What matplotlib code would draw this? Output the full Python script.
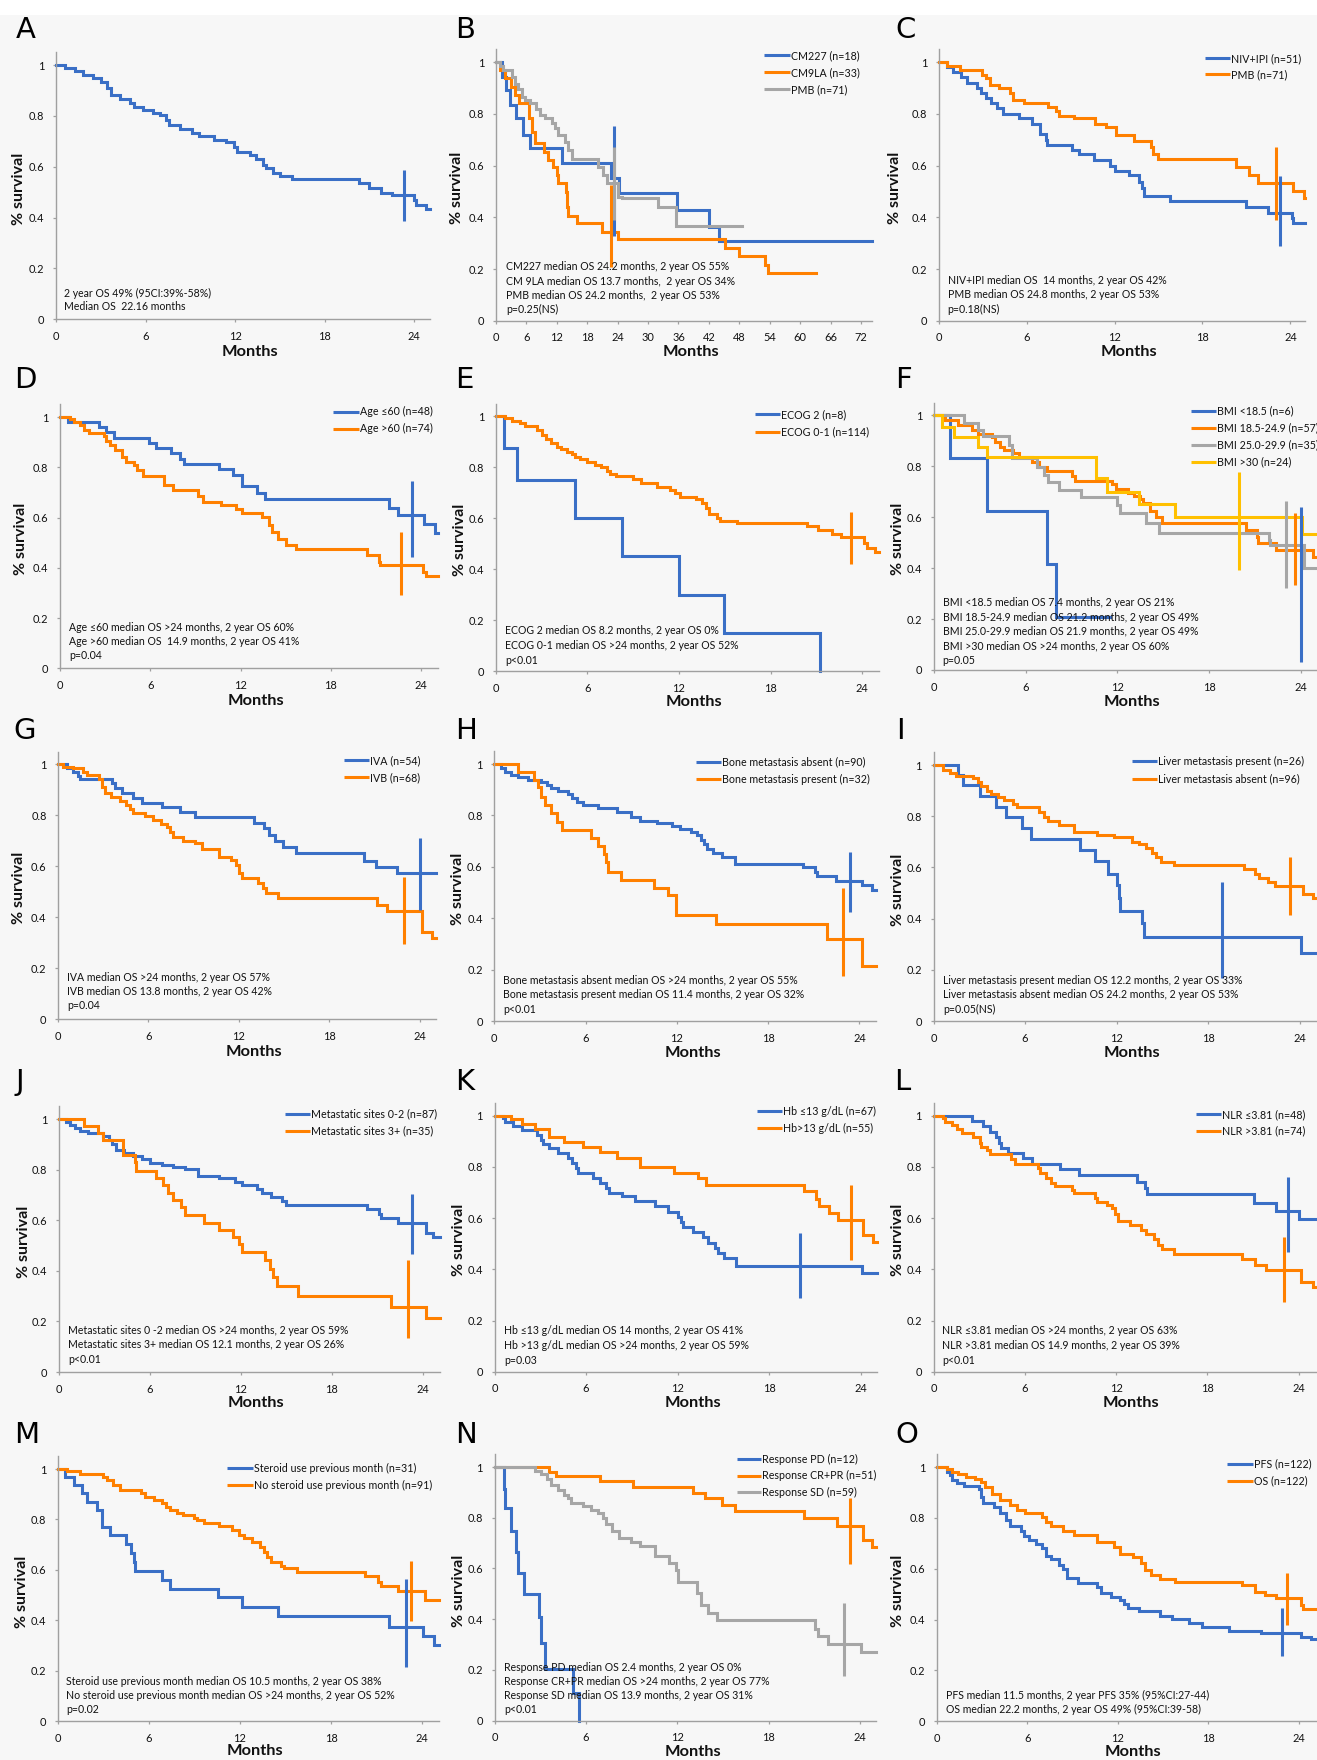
import matplotlib
matplotlib.use('Agg')
import matplotlib.pyplot as plt
from matplotlib.lines import Line2D
from matplotlib.patches import Rectangle

# ---------------- colours ----------------
BLUE = '#3a6fc6'
ORANGE = '#ff8000'
GRAY = '#a6a6a6'
YELLOW = '#ffc000'

# ---------------- data (Kaplan-Meier step curves: time in months, survival) ----------------
A_t = [0, 0.6, 1.3, 1.8, 2.5, 3.0, 3.4, 3.7, 4.3, 4.95, 5.2, 5.85, 6.5, 7.0, 7.4, 7.6, 8.3, 9.1, 9.6, 10.6,
       11.4, 11.9, 12.1, 13.0, 13.4, 13.9, 14.1, 14.55, 15.0, 15.8, 20.3, 21.0, 21.8, 22.5, 24.0, 24.15, 24.8, 25.07]
A_s = [1, 0.99, 0.975, 0.96, 0.948, 0.935, 0.908, 0.882, 0.865, 0.85, 0.834, 0.823, 0.813, 0.803, 0.784, 0.764,
       0.747, 0.731, 0.721, 0.705, 0.698, 0.679, 0.659, 0.646, 0.629, 0.607, 0.594, 0.574, 0.564, 0.55, 0.537,
       0.515, 0.498, 0.489, 0.469, 0.45, 0.433, 0.433]
A_cross = (23.33, 0.388, 0.587)

B1_t = [0, 1.1, 2.0, 2.8, 3.9, 5.4, 6.8, 13.1, 22.6, 24.3, 35.8, 42.1, 44.0, 74.17]
B1_s = [1, 0.945, 0.893, 0.835, 0.783, 0.719, 0.667, 0.612, 0.551, 0.493, 0.428, 0.364, 0.31, 0.31]
B1_cross = (23.27, 0.328, 0.754)
B2_t = [0, 0.7, 1.8, 2.9, 3.7, 4.6, 6.6, 7.2, 7.7, 9.5, 10.3, 11.2, 12.0, 12.3, 13.8, 14.1, 14.3, 15.9, 21.0,
        24.1, 45.2, 47.9, 53.1, 53.6, 63.2]
B2_s = [1, 0.97, 0.94, 0.906, 0.874, 0.841, 0.783, 0.732, 0.686, 0.654, 0.622, 0.596, 0.564, 0.534, 0.499,
        0.441, 0.405, 0.379, 0.345, 0.315, 0.28, 0.25, 0.215, 0.186, 0.186]
B2_cross = (22.6, 0.209, 0.525)
B3_t = [0, 0.8, 1.3, 3.1, 3.7, 4.4, 5.1, 5.7, 6.8, 7.9, 8.7, 9.7, 11.0, 11.6, 12.3, 13.6, 14.3, 14.9, 20.2,
        21.2, 21.8, 24.1, 24.8, 32.0, 35.6, 48.5]
B3_s = [1, 0.986, 0.97, 0.945, 0.916, 0.895, 0.867, 0.854, 0.841, 0.818, 0.796, 0.783, 0.764, 0.745, 0.719,
        0.693, 0.661, 0.625, 0.596, 0.564, 0.534, 0.48, 0.476, 0.441, 0.366, 0.366]
B3_cross = (23.2, 0.39, 0.674)

C1_t = [0, 0.57, 1.0, 1.5, 1.9, 2.6, 2.9, 3.25, 3.6, 4.0, 4.4, 5.5, 6.4, 6.9, 7.3, 7.4, 9.1, 9.55, 10.6, 11.7,
        12.0, 13.0, 13.65, 13.9, 14.0, 15.8, 21.0, 22.45, 24.1, 24.2, 25.02]
C1_s = [1, 0.983, 0.964, 0.942, 0.921, 0.899, 0.88, 0.861, 0.841, 0.822, 0.8, 0.783, 0.761, 0.721, 0.699,
        0.681, 0.661, 0.644, 0.622, 0.6, 0.579, 0.564, 0.538, 0.512, 0.483, 0.463, 0.439, 0.418, 0.396, 0.377, 0.377]
C1_cross = (23.32, 0.289, 0.56)
C2_t = [0, 0.57, 1.43, 2.96, 3.2, 3.5, 4.1, 4.9, 5.1, 5.8, 7.45, 8.0, 8.2, 9.2, 10.7, 11.45, 12.1, 13.35,
        14.5, 14.6, 15.0, 20.3, 21.2, 21.8, 24.2, 24.9, 25.02]
C2_s = [1, 0.986, 0.97, 0.951, 0.938, 0.912, 0.899, 0.883, 0.854, 0.844, 0.826, 0.812, 0.794, 0.783, 0.761,
        0.751, 0.719, 0.695, 0.674, 0.645, 0.625, 0.596, 0.564, 0.532, 0.503, 0.474, 0.474]
C2_cross = (23.04, 0.39, 0.674)

D1_t = [0, 0.55, 2.6, 3.06, 3.6, 5.9, 6.4, 7.4, 8.0, 8.25, 10.6, 11.5, 12.1, 13.1, 13.6, 21.9, 22.5, 24.2, 24.9, 25.11]
D1_s = [1, 0.981, 0.959, 0.942, 0.918, 0.898, 0.875, 0.855, 0.832, 0.812, 0.792, 0.769, 0.725, 0.699, 0.672,
        0.639, 0.61, 0.573, 0.54, 0.54]
D1_cross = (23.38, 0.444, 0.745)
D2_t = [0, 0.66, 0.93, 1.3, 1.6, 1.95, 2.9, 3.06, 3.3, 3.66, 4.1, 4.4, 4.9, 5.1, 5.5, 6.9, 7.5, 9.15, 9.5, 10.7,
        11.7, 12.1, 13.4, 13.9, 14.1, 14.5, 15.0, 15.7, 20.4, 21.2, 21.3, 24.15, 24.3, 25.11]
D2_s = [1, 0.992, 0.981, 0.968, 0.948, 0.935, 0.924, 0.906, 0.889, 0.869, 0.842, 0.822, 0.809, 0.789, 0.765,
        0.729, 0.709, 0.686, 0.663, 0.65, 0.633, 0.619, 0.601, 0.57, 0.544, 0.513, 0.491, 0.473, 0.451, 0.424,
        0.411, 0.385, 0.367, 0.367]
D2_cross = (22.67, 0.292, 0.544)

E1_t = [0, 0.57, 1.42, 5.2, 8.25, 12.0, 14.96, 21.25, 21.25]
E1_s = [1, 0.875, 0.75, 0.6, 0.45, 0.3, 0.15, 0.0, 0.0]
E2_t = [0, 0.6, 1.1, 1.6, 1.9, 2.7, 3.0, 3.3, 3.6, 4.0, 4.3, 4.65, 5.0, 5.2, 5.5, 5.96, 6.5, 6.9, 7.3, 7.5,
        7.9, 9.0, 9.5, 10.55, 11.4, 11.75, 12.1, 13.1, 13.5, 13.8, 14.0, 14.5, 14.7, 15.8, 20.4, 21.1, 22.0,
        22.6, 24.1, 24.3, 24.85, 25.1]
E2_s = [1, 0.992, 0.983, 0.975, 0.962, 0.946, 0.927, 0.91, 0.894, 0.881, 0.87, 0.861, 0.852, 0.842, 0.831,
        0.822, 0.809, 0.8, 0.787, 0.774, 0.766, 0.753, 0.74, 0.721, 0.711, 0.698, 0.685, 0.674, 0.661, 0.639,
        0.617, 0.6, 0.59, 0.582, 0.569, 0.554, 0.538, 0.525, 0.504, 0.482, 0.469, 0.469]
E2_cross = (23.26, 0.42, 0.626)

F1_t = [0, 1.05, 3.5, 7.4, 8.0, 11.54]
F1_s = [1, 0.833, 0.625, 0.417, 0.208, 0.208]
F1_cross = (24.0, 0.033, 0.641)
F2_t = [0, 0.76, 1.6, 2.5, 2.9, 3.8, 4.0, 4.35, 4.6, 5.2, 5.55, 6.4, 6.9, 7.4, 9.04, 9.25, 11.65, 11.9, 12.7,
        13.07, 13.5, 13.7, 14.15, 14.5, 14.9, 20.4, 21.1, 21.2, 22.4, 24.8, 25.05]
F2_s = [1, 0.982, 0.962, 0.942, 0.928, 0.914, 0.897, 0.877, 0.864, 0.851, 0.835, 0.818, 0.798, 0.783, 0.762,
        0.743, 0.73, 0.709, 0.696, 0.683, 0.67, 0.654, 0.626, 0.602, 0.579, 0.55, 0.524, 0.497, 0.471, 0.445, 0.445]
F2_cross = (23.63, 0.334, 0.615)
F3_t = [0, 1.96, 2.9, 3.2, 4.9, 5.1, 6.75, 7.2, 7.5, 8.2, 9.6, 12.0, 12.2, 13.9, 14.7, 21.9, 22.0, 24.2, 25.05]
F3_s = [1, 0.971, 0.942, 0.919, 0.884, 0.831, 0.798, 0.766, 0.74, 0.707, 0.678, 0.648, 0.615, 0.579, 0.537,
        0.51, 0.491, 0.399, 0.399]
F3_cross = (23.04, 0.32, 0.665)
F4_t = [0, 0.54, 1.35, 2.9, 3.5, 10.6, 11.3, 13.4, 15.8, 24.06, 25.05]
F4_s = [1, 0.955, 0.914, 0.874, 0.835, 0.753, 0.7, 0.652, 0.6, 0.534, 0.534]
F4_cross = (19.93, 0.393, 0.779)

G1_t = [0, 0.6, 0.98, 1.3, 1.45, 3.6, 3.75, 4.25, 5.0, 5.6, 6.9, 8.1, 9.1, 13.0, 13.7, 14.0, 14.4, 14.9, 15.8,
        20.3, 21.1, 22.5, 25.06]
G1_s = [1, 0.987, 0.971, 0.954, 0.942, 0.925, 0.906, 0.886, 0.869, 0.849, 0.831, 0.812, 0.792, 0.771, 0.749,
        0.723, 0.7, 0.677, 0.651, 0.622, 0.596, 0.572, 0.572]
G1_cross = (24.0, 0.428, 0.709)
G2_t = [0, 0.34, 1.0, 1.65, 1.9, 2.7, 2.9, 3.1, 3.5, 4.1, 4.5, 4.8, 5.0, 5.8, 6.3, 6.8, 7.2, 7.4, 7.6, 8.3,
        9.1, 9.55, 10.7, 11.45, 11.8, 12.0, 12.2, 13.3, 13.6, 13.8, 14.6, 21.2, 21.85, 24.15, 24.8, 25.06]
G2_s = [1, 0.991, 0.984, 0.971, 0.958, 0.942, 0.912, 0.886, 0.87, 0.857, 0.84, 0.825, 0.808, 0.797, 0.781,
        0.766, 0.753, 0.736, 0.716, 0.7, 0.69, 0.668, 0.637, 0.624, 0.605, 0.572, 0.552, 0.533, 0.513, 0.496,
        0.474, 0.448, 0.424, 0.343, 0.317, 0.317]
G2_cross = (22.97, 0.295, 0.556)

H1_t = [0, 0.43, 0.71, 1.13, 1.54, 2.23, 3.06, 3.47, 3.75, 4.17, 4.86, 5.14, 5.41, 5.83, 6.79, 8.04, 9.0, 9.56,
        10.7, 11.66, 12.2, 12.9, 13.3, 13.6, 13.8, 14.0, 14.4, 15.0, 15.8, 20.3, 21.06, 21.2, 22.46, 24.2, 24.8, 25.09]
H1_s = [1, 0.983, 0.97, 0.957, 0.948, 0.938, 0.931, 0.918, 0.905, 0.896, 0.885, 0.866, 0.853, 0.84, 0.827,
        0.814, 0.794, 0.779, 0.77, 0.757, 0.748, 0.735, 0.722, 0.705, 0.687, 0.671, 0.654, 0.638, 0.612, 0.599,
        0.58, 0.563, 0.545, 0.528, 0.508, 0.508]
H1_cross = (23.37, 0.425, 0.659)
H2_t = [0, 1.54, 2.6, 2.87, 3.06, 3.34, 3.75, 4.1, 4.45, 6.39, 6.8, 7.2, 7.35, 7.49, 8.3, 10.5, 11.39, 11.94,
        14.57, 21.9, 24.15, 25.09]
H2_s = [1, 0.97, 0.938, 0.91, 0.873, 0.84, 0.808, 0.775, 0.743, 0.714, 0.681, 0.649, 0.617, 0.581, 0.548,
        0.516, 0.49, 0.412, 0.377, 0.321, 0.214, 0.214]
H2_cross = (22.95, 0.175, 0.516)

I1_t = [0, 1.6, 1.96, 3.06, 4.08, 4.77, 5.8, 6.4, 9.6, 10.57, 11.45, 12.0, 12.14, 12.2, 13.66, 13.8, 24.08, 25.13]
I1_s = [1, 0.961, 0.922, 0.879, 0.835, 0.796, 0.753, 0.71, 0.668, 0.624, 0.574, 0.531, 0.479, 0.431, 0.384,
        0.329, 0.264, 0.264]
I1_cross = (18.9, 0.167, 0.544)
I2_t = [0, 0.63, 1.05, 1.46, 2.57, 2.9, 3.1, 3.5, 3.8, 4.2, 4.6, 5.2, 5.46, 6.9, 7.25, 7.5, 8.2, 9.2, 10.7,
        11.8, 13.0, 13.46, 13.9, 14.3, 14.6, 14.9, 15.75, 20.36, 21.05, 21.3, 21.9, 22.4, 24.2, 24.9, 25.13]
I2_s = [1, 0.98, 0.967, 0.957, 0.948, 0.935, 0.918, 0.9, 0.885, 0.876, 0.863, 0.848, 0.835, 0.815, 0.798,
        0.783, 0.766, 0.74, 0.727, 0.717, 0.701, 0.69, 0.674, 0.658, 0.639, 0.622, 0.609, 0.592, 0.574, 0.557,
        0.544, 0.527, 0.496, 0.479, 0.479]
I2_cross = (23.34, 0.414, 0.639)

J1_t = [0, 0.5, 0.7, 1.05, 1.4, 1.9, 2.9, 3.3, 3.5, 3.75, 4.3, 4.9, 5.5, 6.0, 6.8, 7.55, 8.3, 9.2, 10.55, 11.6,
        12.1, 13.05, 13.4, 14.0, 14.7, 15.0, 20.3, 21.1, 21.25, 22.4, 24.2, 24.7, 25.13]
J1_s = [1, 0.989, 0.976, 0.963, 0.954, 0.943, 0.933, 0.917, 0.9, 0.877, 0.867, 0.854, 0.841, 0.827, 0.818,
        0.809, 0.801, 0.775, 0.765, 0.752, 0.739, 0.722, 0.709, 0.693, 0.677, 0.66, 0.643, 0.625, 0.607, 0.59,
        0.551, 0.532, 0.532]
J1_cross = (23.3, 0.466, 0.704)
J2_t = [0, 1.67, 2.6, 2.9, 4.2, 5.0, 5.1, 6.4, 6.9, 7.2, 7.5, 8.05, 8.3, 9.6, 10.55, 11.5, 11.9, 12.1, 13.6,
        13.9, 14.1, 14.4, 15.8, 21.9, 24.2, 25.13]
J2_s = [1, 0.972, 0.946, 0.917, 0.858, 0.831, 0.796, 0.765, 0.739, 0.709, 0.68, 0.651, 0.621, 0.59, 0.561,
        0.535, 0.506, 0.476, 0.443, 0.406, 0.374, 0.34, 0.3, 0.258, 0.212, 0.212]
J2_cross = (23.0, 0.133, 0.443)

K1_t = [0, 0.55, 0.7, 1.24, 1.79, 2.76, 3.03, 3.17, 3.58, 4.14, 4.83, 5.1, 5.32, 5.5, 6.48, 6.89, 7.3, 7.52,
        8.35, 9.23, 10.48, 11.37, 12.05, 12.2, 12.33, 13.0, 13.68, 14.0, 14.45, 14.63, 15.0, 15.82, 24.1, 25.05]
K1_s = [1, 0.99, 0.974, 0.961, 0.945, 0.926, 0.906, 0.89, 0.873, 0.854, 0.834, 0.815, 0.795, 0.776, 0.756,
        0.739, 0.717, 0.698, 0.685, 0.665, 0.646, 0.625, 0.605, 0.586, 0.564, 0.547, 0.527, 0.504, 0.482, 0.463,
        0.443, 0.411, 0.385, 0.385]
K1_cross = (20.0, 0.287, 0.541)
K2_t = [0, 1.1, 1.8, 2.62, 3.58, 4.55, 5.79, 6.9, 8.0, 9.5, 11.77, 13.3, 13.85, 20.3, 21.06, 21.25, 21.9, 22.5,
        24.15, 24.8, 25.05]
K2_s = [1, 0.987, 0.967, 0.948, 0.915, 0.896, 0.876, 0.857, 0.833, 0.798, 0.775, 0.756, 0.73, 0.704, 0.674,
        0.646, 0.62, 0.591, 0.535, 0.505, 0.505]
K2_cross = (23.32, 0.435, 0.73)

L1_t = [0, 2.5, 3.26, 3.68, 4.09, 4.29, 4.45, 4.92, 5.9, 6.5, 8.3, 9.57, 13.35, 13.9, 14.04, 21.04, 22.5, 24.0, 25.2]
L1_s = [1, 0.98, 0.96, 0.938, 0.915, 0.892, 0.872, 0.853, 0.833, 0.811, 0.79, 0.768, 0.742, 0.716, 0.694,
        0.66, 0.628, 0.595, 0.595]
L1_cross = (23.3, 0.469, 0.762)
L2_t = [0, 0.64, 0.77, 1.19, 1.52, 1.88, 2.57, 3.07, 3.12, 3.54, 3.68, 5.06, 5.34, 6.86, 7.0, 7.41, 7.69, 7.96,
        9.07, 9.2, 10.59, 10.73, 11.42, 11.7, 11.92, 12.1, 12.94, 13.63, 13.96, 14.46, 14.74, 15.0, 15.79, 20.27,
        21.1, 21.87, 24.14, 24.97, 25.2]
L2_s = [1, 0.99, 0.977, 0.964, 0.947, 0.931, 0.918, 0.895, 0.876, 0.866, 0.85, 0.829, 0.811, 0.794, 0.777,
        0.755, 0.738, 0.725, 0.71, 0.697, 0.677, 0.664, 0.651, 0.638, 0.616, 0.59, 0.573, 0.553, 0.538, 0.517,
        0.495, 0.478, 0.46, 0.439, 0.417, 0.397, 0.352, 0.329, 0.329]
L2_cross = (23.03, 0.273, 0.525)

M1_t = [0, 0.5, 1.05, 1.6, 1.9, 2.58, 2.9, 3.46, 4.5, 4.8, 5.0, 5.07, 6.87, 7.43, 10.56, 12.14, 14.5, 21.84,
        24.06, 24.8, 25.12]
M1_s = [1, 0.97, 0.937, 0.903, 0.87, 0.837, 0.771, 0.738, 0.702, 0.668, 0.632, 0.597, 0.56, 0.524, 0.491,
        0.454, 0.417, 0.374, 0.337, 0.302, 0.302]
M1_cross = (22.95, 0.216, 0.562)
M2_t = [0, 0.64, 1.47, 3.0, 3.27, 3.63, 4.1, 5.5, 5.77, 6.32, 6.87, 7.15, 7.43, 7.84, 8.26, 8.95, 9.17, 9.65,
        10.6, 11.45, 11.95, 12.28, 12.83, 13.3, 13.6, 13.8, 14.08, 14.7, 14.9, 15.74, 20.26, 21.1, 21.3, 22.4,
        24.2, 25.12]
M2_s = [1, 0.992, 0.98, 0.97, 0.956, 0.937, 0.917, 0.903, 0.89, 0.877, 0.864, 0.851, 0.837, 0.824, 0.818,
        0.804, 0.798, 0.784, 0.774, 0.758, 0.738, 0.725, 0.712, 0.692, 0.672, 0.652, 0.632, 0.615, 0.606, 0.593,
        0.575, 0.553, 0.536, 0.517, 0.48, 0.48]
M2_cross = (23.3, 0.398, 0.635)

N1_t = [0, 0.61, 0.69, 1.11, 1.38, 1.52, 1.94, 2.9, 3.03, 3.3, 5.16, 5.52, 5.52]
N1_s = [1, 0.912, 0.837, 0.748, 0.666, 0.581, 0.499, 0.41, 0.305, 0.203, 0.108, 0.0, 0.0]
N2_t = [0, 3.59, 4.06, 6.9, 9.1, 13.0, 13.83, 14.93, 15.76, 20.3, 22.5, 24.2, 24.8, 25.03]
N2_s = [1, 0.982, 0.963, 0.946, 0.92, 0.899, 0.877, 0.85, 0.828, 0.798, 0.768, 0.713, 0.684, 0.684]
N2_cross = (23.3, 0.618, 0.877)
N3_t = [0, 2.63, 3.04, 3.45, 3.72, 4.15, 4.56, 4.83, 5.04, 5.79, 6.35, 6.76, 7.09, 7.31, 7.73, 8.15, 8.97, 9.53,
        10.5, 11.48, 11.9, 12.04, 13.29, 13.56, 13.98, 14.59, 21.0, 21.2, 21.86, 24.07, 25.03]
N3_s = [1, 0.986, 0.973, 0.953, 0.929, 0.911, 0.89, 0.877, 0.858, 0.848, 0.832, 0.819, 0.798, 0.775, 0.749,
        0.719, 0.703, 0.69, 0.649, 0.62, 0.594, 0.548, 0.502, 0.456, 0.423, 0.397, 0.36, 0.334, 0.303, 0.272, 0.272]
N3_cross = (22.95, 0.176, 0.463)

O1_t = [0, 0.7, 0.84, 0.98, 1.31, 1.8, 2.8, 2.93, 3.07, 3.77, 4.19, 4.55, 4.83, 5.58, 5.78, 6.14, 6.56, 6.98,
        7.26, 7.54, 8.09, 8.37, 8.65, 9.35, 10.6, 10.9, 11.58, 12.14, 12.42, 12.7, 13.4, 14.8, 15.6, 16.75, 17.6,
        19.4, 21.5, 24.14, 24.84, 25.21]
O1_s = [1, 0.982, 0.969, 0.949, 0.936, 0.925, 0.912, 0.883, 0.857, 0.844, 0.818, 0.792, 0.768, 0.75, 0.729,
        0.713, 0.697, 0.68, 0.65, 0.637, 0.615, 0.598, 0.562, 0.545, 0.53, 0.506, 0.49, 0.477, 0.461, 0.444,
        0.435, 0.414, 0.401, 0.388, 0.37, 0.356, 0.346, 0.333, 0.322, 0.322]
O1_cross = (22.9, 0.257, 0.444)
O2_t = [0, 0.7, 0.98, 1.4, 1.95, 2.5, 2.93, 3.2, 3.63, 4.19, 4.88, 5.3, 5.86, 6.98, 7.26, 7.54, 8.37, 9.07,
        10.6, 11.72, 12.14, 12.98, 13.54, 13.8, 14.23, 14.8, 15.77, 20.23, 21.07, 21.77, 22.47, 24.14, 24.28, 25.21]
O2_s = [1, 0.991, 0.982, 0.972, 0.959, 0.951, 0.942, 0.92, 0.894, 0.87, 0.85, 0.831, 0.818, 0.802, 0.785,
        0.768, 0.75, 0.733, 0.706, 0.687, 0.658, 0.647, 0.621, 0.595, 0.575, 0.558, 0.549, 0.536, 0.51, 0.497,
        0.484, 0.457, 0.44, 0.44]
O2_cross = (23.25, 0.379, 0.585)

# ---------------- text ----------------
Y_TICKS = [0, 0.2, 0.4, 0.6, 0.8, 1.0]
Y_TICK_LABELS = ['0', '0.2', '0.4', '0.6', '0.8', '1']
X_TICKS_24 = [0, 6, 12, 18, 24]
X_TICKS_72 = [0, 6, 12, 18, 24, 30, 36, 42, 48, 54, 60, 66, 72]

A_text = ['2 year OS 49% (95CI:39%-58%)', 'Median OS  22.16 months']
B_legend = ['CM227 (n=18)', 'CM9LA (n=33)', 'PMB (n=71)']
B_text = ['CM227 median OS 24.2 months, 2 year OS 55%', 'CM 9LA median OS 13.7 months,  2 year OS 34%',
          'PMB median OS 24.2 months,  2 year OS 53%', 'p=0.25(NS)']
C_legend = ['NIV+IPI (n=51)', 'PMB (n=71)']
C_text = ['NIV+IPI median OS  14 months, 2 year OS 42%', 'PMB median OS 24.8 months, 2 year OS 53%', 'p=0.18(NS)']
D_legend = ['Age \u226460 (n=48)', 'Age >60 (n=74)']
D_text = ['Age \u226460 median OS >24 months, 2 year OS 60%', 'Age >60 median OS  14.9 months, 2 year OS 41%', 'p=0.04']
E_legend = ['ECOG 2 (n=8)', 'ECOG 0-1 (n=114)']
E_text = ['ECOG 2 median OS 8.2 months, 2 year OS 0%', 'ECOG 0-1 median OS >24 months, 2 year OS 52%', 'p<0.01']
F_legend = ['BMI <18.5 (n=6)', 'BMI 18.5-24.9 (n=57)', 'BMI 25.0-29.9 (n=35)', 'BMI >30 (n=24)']
F_text = ['BMI <18.5 median OS 7.4 months, 2 year OS 21%', 'BMI 18.5-24.9 median OS 21.2 months, 2 year OS 49%',
          'BMI 25.0-29.9 median OS 21.9 months, 2 year OS 49%', 'BMI >30 median OS >24 months, 2 year OS 60%', 'p=0.05']
G_legend = ['IVA (n=54)', 'IVB (n=68)']
G_text = ['IVA median OS >24 months, 2 year OS 57%', 'IVB median OS 13.8 months, 2 year OS 42%', 'p=0.04']
H_legend = ['Bone metastasis absent (n=90)', 'Bone metastasis present (n=32)']
H_text = ['Bone metastasis absent median OS >24 months, 2 year OS 55%',
          'Bone metastasis present median OS 11.4 months, 2 year OS 32%', 'p<0.01']
I_legend = ['Liver metastasis present (n=26)', 'Liver metastasis absent (n=96)']
I_text = ['Liver metastasis present median OS 12.2 months, 2 year OS 33%',
          'Liver metastasis absent median OS 24.2 months, 2 year OS 53%', 'p=0.05(NS)']
J_legend = ['Metastatic sites 0-2 (n=87)', 'Metastatic sites 3+ (n=35)']
J_text = ['Metastatic sites 0 -2 median OS >24 months, 2 year OS 59%',
          'Metastatic sites 3+ median OS 12.1 months, 2 year OS 26%', 'p<0.01']
K_legend = ['Hb \u226413 g/dL (n=67)', 'Hb>13 g/dL (n=55)']
K_text = ['Hb \u226413 g/dL median OS 14 months, 2 year OS 41%', 'Hb >13 g/dL median OS >24 months, 2 year OS 59%', 'p=0.03']
L_legend = ['NLR \u22643.81 (n=48)', 'NLR >3.81 (n=74)']
L_text = ['NLR \u22643.81 median OS >24 months, 2 year OS 63%', 'NLR >3.81 median OS 14.9 months, 2 year OS 39%', 'p<0.01']
M_legend = ['Steroid use previous month (n=31)', 'No steroid use previous month (n=91)']
M_text = ['Steroid use previous month median OS 10.5 months, 2 year OS 38%',
          'No steroid use previous month median OS >24 months, 2 year OS 52%', 'p=0.02']
N_legend = ['Response PD (n=12)', 'Response CR+PR (n=51)', 'Response SD (n=59)']
N_text = ['Response PD median OS 2.4 months, 2 year OS 0%', 'Response CR+PR median OS >24 months, 2 year OS 77%',
          'Response SD median OS 13.9 months, 2 year OS 31%', 'p<0.01']
O_legend = ['PFS (n=122)', 'OS (n=122)']
O_text = ['PFS median 11.5 months, 2 year PFS 35% (95%CI:27-44)', 'OS median 22.2 months, 2 year OS 49% (95%CI:39-58)']

# ---------------- figure ----------------
W, H = 1317, 1760
FONT = ['Lato', 'DejaVu Sans']
plt.rcParams['font.family'] = FONT
BG = '#f7f7f7'
AXC = '#a0a0a0'
LW = 2.2
TXT_FS = 7.6
LEG_FS = 7.7
TICK_FS = 7.9
TXT_C = '#111111'

fig = plt.figure(figsize=(W / 100, H / 100), dpi=100)
fig.patch.set_facecolor(BG)
fig.add_artist(Rectangle((0, 1 - 15 / H), 1, 15 / H, transform=fig.transFigure,
                         facecolor='white', edgecolor='none', zorder=0))


def fx(px):
    return px / W


def fy(py):
    return 1 - py / H


def panel(letter, letter_xy, x0, xr, y0, y1, xmax, xticks, curves, crosses,
          ylab_x, months_xy, text_lines, text_xy, legend=None, legend_pos=None):
    ytop = y1 - 0.05 * (y0 - y1)
    ax = fig.add_axes([fx(x0), fy(y0), (xr - x0) / W, (y0 - ytop) / H])
    ax.set_facecolor('none')
    ax.set_xlim(0, xmax)
    ax.set_ylim(0, 1.05)
    for sp in ['top', 'right']:
        ax.spines[sp].set_visible(False)
    for sp in ['left', 'bottom']:
        ax.spines[sp].set_color(AXC)
        ax.spines[sp].set_linewidth(1.0)
    ax.set_yticks(Y_TICKS)
    ax.set_yticklabels(Y_TICK_LABELS)
    ax.set_xticks(xticks)
    ax.set_xticklabels([str(v) for v in xticks])
    ax.tick_params(direction='out', length=2.5, width=0.9, color=AXC, labelsize=TICK_FS,
                   pad=5.8, labelcolor=TXT_C)
    for (t, s, c) in curves:
        ax.step(t, s, where='post', color=c, lw=LW, solid_joinstyle='miter', clip_on=False)
    for (cr, c) in crosses:
        ax.plot([cr[0], cr[0]], [cr[1], cr[2]], color=c, lw=LW, solid_capstyle='butt')
    # letter
    fig.text(fx(letter_xy[0]), fy(letter_xy[1]), letter, fontsize=21, family='DejaVu Sans',
             ha='left', va='baseline', color='black')
    # axis labels
    fig.text(fx(ylab_x), fy((ytop + y0) / 2 + 3), '% survival', rotation=90, fontsize=11.5,
             fontweight='bold', ha='center', va='center', color=TXT_C)
    fig.text(fx(months_xy[0]), fy(months_xy[1]), 'Months', fontsize=11.8, fontweight='bold',
             ha='center', va='center', color=TXT_C)
    # annotation text
    tx, ty, dy = text_xy
    for i, line in enumerate(text_lines):
        fig.text(fx(tx), fy(ty + i * dy), line, fontsize=TXT_FS, ha='left', va='center', color=TXT_C)
    # legend
    if legend:
        lx1, lx2, ly, ldy = legend_pos
        for i, (lab, c) in enumerate(legend):
            yy = fy(ly + i * ldy)
            fig.add_artist(Line2D([fx(lx1), fx(lx2)], [yy, yy], color=c, lw=LW,
                                  solid_capstyle='butt', transform=fig.transFigure))
            fig.text(fx(lx2 + 1), yy, lab, fontsize=LEG_FS, ha='left', va='center', color=TXT_C)
    return ax


# Row 1
panel('A', (16, 38.3), 56, 430, 319.3, 65, 25.07, X_TICKS_24,
      [(A_t, A_s, BLUE)], [(A_cross, BLUE)],
      19, (250, 352), A_text, (64.3, 293.3, 13.4))
panel('B', (455, 38.3), 496, 872, 320.7, 62.3, 74.17, X_TICKS_72,
      [(B1_t, B1_s, BLUE), (B2_t, B2_s, ORANGE), (B3_t, B3_s, GRAY)],
      [(B1_cross, BLUE), (B2_cross, ORANGE), (B3_cross, GRAY)],
      456.7, (690.7, 352.3), B_text, (506, 266.7, 14.4),
      list(zip(B_legend, [BLUE, ORANGE, GRAY])), (764.3, 790, 55.3, 17))
panel('C', (895, 38.3), 938.7, 1305.3, 320.7, 62.3, 25.02, X_TICKS_24,
      [(C1_t, C1_s, BLUE), (C2_t, C2_s, ORANGE)],
      [(C1_cross, BLUE), (C2_cross, ORANGE)],
      895.3, (1128.7, 352), C_text, (947.7, 280, 14.5),
      list(zip(C_legend, [BLUE, ORANGE])), (1204.7, 1229.7, 58.3, 16))
# Row 2
panel('D', (14, 388.3), 60, 437.7, 668.3, 417, 25.11, X_TICKS_24,
      [(D1_t, D1_s, BLUE), (D2_t, D2_s, ORANGE)],
      [(D1_cross, BLUE), (D2_cross, ORANGE)],
      20.7, (255.7, 700.7), D_text, (69, 627.3, 14.3),
      list(zip(D_legend, [BLUE, ORANGE])), (333.3, 359, 411.7, 17))
panel('E', (455, 388.3), 495.7, 879, 671, 416.3, 25.1, X_TICKS_24,
      [(E1_t, E1_s, BLUE), (E2_t, E2_s, ORANGE)],
      [(E2_cross, ORANGE)],
      460, (694, 702.3), E_text, (505.3, 631, 14.5),
      list(zip(E_legend, [BLUE, ORANGE])), (755, 780, 414.3, 17.4))
panel('F', (895, 388.3), 933.7, 1317, 670, 415.3, 25.05, X_TICKS_24,
      [(F1_t, F1_s, BLUE), (F2_t, F2_s, ORANGE), (F3_t, F3_s, GRAY), (F4_t, F4_s, YELLOW)],
      [(F1_cross, BLUE), (F2_cross, ORANGE), (F3_cross, GRAY), (F4_cross, YELLOW)],
      897.7, (1132, 702.3), F_text, (942.7, 602.7, 14.5),
      list(zip(F_legend, [BLUE, ORANGE, GRAY, YELLOW])), (1191, 1216.3, 411, 17))
# Row 3
panel('G', (13, 739.3), 58.1, 435.6, 1019, 764.3, 25.06, X_TICKS_24,
      [(G1_t, G1_s, BLUE), (G2_t, G2_s, ORANGE)],
      [(G1_cross, BLUE), (G2_cross, ORANGE)],
      19, (254.2, 1051.7), G_text, (67.3, 977.3, 14.3),
      list(zip(G_legend, [BLUE, ORANGE])), (344.3, 369.1, 760.3, 17))
panel('H', (455, 739.3), 494.2, 876, 1021, 764, 25.09, X_TICKS_24,
      [(H1_t, H1_s, BLUE), (H2_t, H2_s, ORANGE)],
      [(H1_cross, BLUE), (H2_cross, ORANGE)],
      458, (692.8, 1052.7), H_text, (503, 980, 14.6),
      list(zip(H_legend, [BLUE, ORANGE])), (695.7, 721, 762, 17.3))
panel('I', (896, 739.3), 933.5, 1317, 1021, 765, 25.13, X_TICKS_24,
      [(I1_t, I1_s, BLUE), (I2_t, I2_s, ORANGE)],
      [(I1_cross, BLUE), (I2_cross, ORANGE)],
      897.7, (1131.7, 1052.7), I_text, (943.2, 980, 14.5),
      list(zip(I_legend, [BLUE, ORANGE])), (1131.7, 1157, 761.3, 17.4))
# Row 4
panel('J', (15, 1090), 58.9, 439.8, 1372, 1119, 25.13, X_TICKS_24,
      [(J1_t, J1_s, BLUE), (J2_t, J2_s, ORANGE)],
      [(J1_cross, BLUE), (J2_cross, ORANGE)],
      24, (256.3, 1403.3), J_text, (68.2, 1330, 14.5),
      list(zip(J_legend, [BLUE, ORANGE])), (285.4, 310.2, 1114, 17))
panel('K', (455, 1090), 494.5, 877, 1371.7, 1115.7, 25.05, X_TICKS_24,
      [(K1_t, K1_s, BLUE), (K2_t, K2_s, ORANGE)],
      [(K1_cross, BLUE), (K2_cross, ORANGE)],
      458.8, (692.8, 1402.7), K_text, (503.8, 1331, 14.5),
      list(zip(K_legend, [BLUE, ORANGE])), (757.2, 782.4, 1111, 17.3))
panel('L', (894, 1090), 933.5, 1317, 1371.7, 1115.7, 25.2, X_TICKS_24,
      [(L1_t, L1_s, BLUE), (L2_t, L2_s, ORANGE)],
      [(L1_cross, BLUE), (L2_cross, ORANGE)],
      897.7, (1131.3, 1403), L_text, (941.9, 1331, 14.5),
      list(zip(L_legend, [BLUE, ORANGE])), (1195.7, 1221, 1114.3, 16.7))
# Row 5
panel('M', (14, 1443.3), 57.7, 439, 1721, 1469, 25.12, X_TICKS_24,
      [(M1_t, M1_s, BLUE), (M2_t, M2_s, ORANGE)],
      [(M1_cross, BLUE), (M2_cross, ORANGE)],
      21.9, (255, 1750.7), M_text, (66.1, 1681.7, 13.7),
      list(zip(M_legend, [BLUE, ORANGE])), (227.3, 252.5, 1468, 17))
panel('N', (455, 1443.3), 494.5, 876, 1720.7, 1467, 25.03, X_TICKS_24,
      [(N1_t, N1_s, BLUE), (N2_t, N2_s, ORANGE), (N3_t, N3_s, GRAY)],
      [(N2_cross, ORANGE), (N3_cross, GRAY)],
      458.8, (692.8, 1751.7), N_text, (503.8, 1667.3, 14.0),
      list(zip(N_legend, [BLUE, ORANGE, GRAY])), (737, 761.4, 1459, 16.7))
panel('O', (895, 1443.3), 936.9, 1317, 1721.3, 1467, 25.21, X_TICKS_24,
      [(O1_t, O1_s, BLUE), (O2_t, O2_s, ORANGE)],
      [(O1_cross, BLUE), (O2_cross, ORANGE)],
      897.7, (1132.6, 1751.7), O_text, (946.1, 1695.7, 13.3),
      list(zip(O_legend, [BLUE, ORANGE])), (1227.3, 1252.6, 1464, 16.7))

fig.savefig('out.png', dpi=100, facecolor=fig.get_facecolor())
